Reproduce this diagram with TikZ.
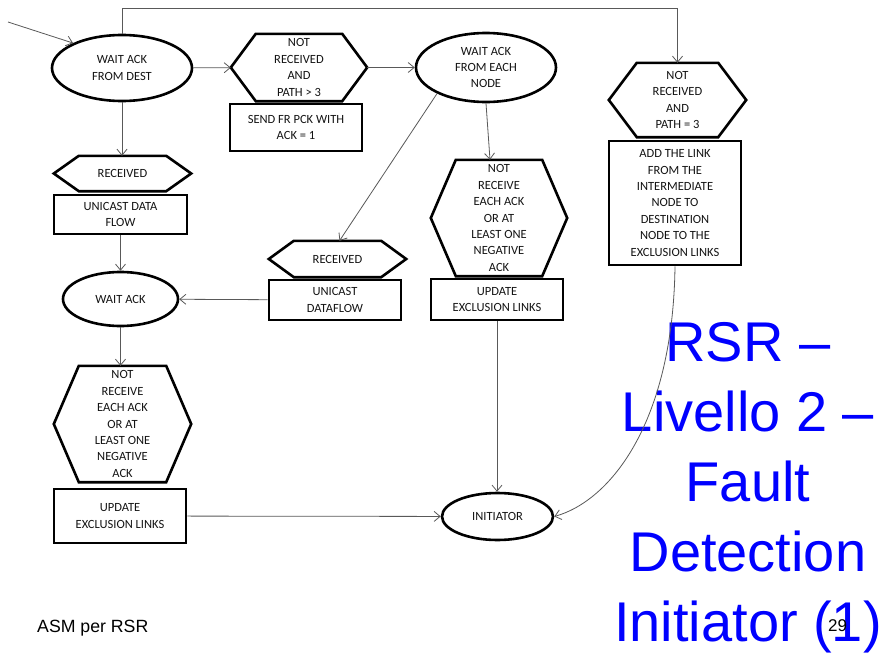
\documentclass[tikz,border=0pt]{standalone}
\usepackage{fontspec}
\setmainfont{Carlito}
\newfontfamily\arialf{Liberation Sans}
\usetikzlibrary{shapes.geometric,arrows.meta,calc}
\newcommand\hexof[2][25pt]{\draw[shapeline] (#2.west) -- ([xshift=#1]#2.north west) -- ([xshift=-#1]#2.north east) -- (#2.east) -- ([xshift=-#1]#2.south east) -- ([xshift=#1]#2.south west) -- cycle;}
\tikzset{
  shapeline/.style={draw=black, line width=2.6pt, line join=miter},
  txt/.style={font=\fontsize{12.5}{16.4}\selectfont, text=black!92, align=center, inner sep=0pt},
  ell/.style={txt, ellipse, shapeline},
  box/.style={txt, rectangle, shapeline},
  hex/.style={txt, rectangle},
  conn/.style={draw=black!65, line width=0.8pt, -{Straight Barb[length=6pt,width=10pt]}}
}
\begin{document}
\begin{tikzpicture}[x=1pt,y=-1pt]
\useasboundingbox[fill=white] (0,0) rectangle (881,656);
% nodes
\node[ell, minimum width=140pt, minimum height=66pt] (e1) at (122,68) {WAIT ACK\\FROM DEST};
\node[hex, minimum width=136pt, minimum height=67pt] (h1) at (299,67.5) {NOT\\RECEIVED\\AND\\PATH > 3};
\node[box, minimum width=132pt, minimum height=47pt] (s1) at (296,127.5) {SEND FR PCK WITH\\ACK = 1};
\node[ell, minimum width=140pt, minimum height=69pt] (e2) at (486,67.5) {WAIT ACK\\FROM EACH\\NODE};
\node[hex, minimum width=137pt, minimum height=74pt] (hp3) at (677.5,100) {NOT\\RECEIVED\\AND\\PATH = 3};
\node[box, minimum width=132pt, minimum height=124pt] (addlink) at (675,203) {ADD THE LINK\\FROM THE\\INTERMEDIATE\\NODE TO\\DESTINATION\\NODE TO THE\\EXCLUSION LINKS};
\node[hex, minimum width=137pt, minimum height=35pt] (r1) at (122.5,173.5) {RECEIVED};
\node[box, minimum width=133pt, minimum height=39pt] (u1) at (120.5,214.5) {UNICAST DATA\\FLOW};
\node[ell, minimum width=115pt, minimum height=54pt] (w1) at (120.5,299) {WAIT ACK};
\node[hex, minimum width=137pt, minimum height=116pt] (hn1) at (122.5,424) {NOT\\RECEIVE\\EACH ACK\\OR AT\\LEAST ONE\\NEGATIVE\\ACK};
\node[box, minimum width=132pt, minimum height=54pt] (up1) at (120,516) {UPDATE\\EXCLUSION LINKS};
\node[hex, minimum width=137pt, minimum height=36pt] (r2) at (337.5,259) {RECEIVED};
\node[box, minimum width=132pt, minimum height=40pt] (u2) at (335,300) {UNICAST\\DATAFLOW};
\node[hex, minimum width=136pt, minimum height=116pt] (hm) at (499,218) {NOT\\RECEIVE\\EACH ACK\\OR AT\\LEAST ONE\\NEGATIVE\\ACK};
\node[box, minimum width=132pt, minimum height=41pt] (up2) at (497,299.5) {UPDATE\\EXCLUSION LINKS};
\node[ell, minimum width=111pt, minimum height=47pt] (init) at (497.5,516.5) {INITIATOR};
% hexagon outlines
\hexof{h1}
\hexof[28pt]{hp3}
\hexof{r1}
\hexof{hn1}
\hexof{r2}
\hexof{hm}
% connectors
\coordinate (start) at (8,22);
\draw[conn] (start) -- (e1.153);
\draw[conn] (e1.north) -- (e1.north |- 0,8) -| (hp3.north);
\draw[conn] (e1) -- (h1);
\draw[conn] (h1) -- (e2);
\draw[conn] (e1.south) -- (e1.south |- r1.north);
\draw[conn] (u1.south) -- (u1.south |- w1.north);
\draw[conn] (w1.south) -- (w1.south |- hn1.north);
\draw[conn] (u2) -- (w1);
\draw[conn] (e2.208) -- ([xshift=2pt]r2.north);
\draw[conn] (e2.south) -- ([xshift=-9pt]hm.north);
\draw[conn] (up2.south) -- (up2.south |- init.north);
\draw[conn] (up1) -- (init);
% title
\node[font=\arialf\fontsize{56}{70}\selectfont, text=blue, align=center, inner sep=0pt, anchor=north] (title) at (748,322) {RSR –\\Livello 2 –\\Fault\\Detection\\Initiator (1)};
\draw[conn] (addlink.south) .. controls ($(addlink.south)+(-2,155)$) and ($(init.east)+(57,-16)$) .. (init.east);
\node[font=\arialf\fontsize{17.7}{20}\selectfont, anchor=base west, inner sep=0pt] (asm) at (37,632) {ASM per RSR};
\node[font=\arialf\fontsize{17}{20}\selectfont, anchor=base west, inner sep=0pt] (pg) at (828,631) {29};
\end{tikzpicture}
\end{document}
